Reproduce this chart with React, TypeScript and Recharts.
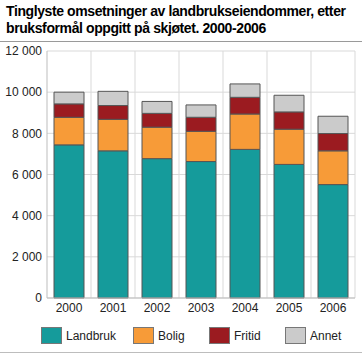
import React from 'react';
import { BarChart, Bar, XAxis, YAxis, CartesianGrid } from 'recharts';

const years = ['2000', '2001', '2002', '2003', '2004', '2005', '2006'];
const landbruk = [7440, 7150, 6770, 6630, 7220, 6490, 5510];
const bolig = [1340, 1530, 1530, 1470, 1720, 1710, 1640];
const fritid = [650, 670, 670, 680, 810, 840, 840];
const annet = [570, 690, 580, 600, 650, 810, 840];
const yTicks = [0, 2000, 4000, 6000, 8000, 10000, 12000];

const series = [
  { key: 'landbruk', name: 'Landbruk', color: '#159b9b', values: landbruk },
  { key: 'bolig', name: 'Bolig', color: '#f79b38', values: bolig },
  { key: 'fritid', name: 'Fritid', color: '#9b1b20', values: fritid },
  { key: 'annet', name: 'Annet', color: '#cbcbcb', values: annet },
];

const data = years.map((y, i) => {
  const row: any = { year: y };
  series.forEach((s) => (row[s.key] = s.values[i]));
  return row;
});

const fmt = (v: number) => String(v).replace(/\B(?=(\d{3})+(?!\d))/g, ' ');

const legendPos = [41, 133, 209, 285];
const FONT = '"Liberation Sans", Arial, sans-serif';

export default function App() {
  return (
    <div style={{ position: 'absolute', left: 0, top: 0, width: 364, height: 354, fontFamily: FONT, background: '#fff' }}>
      <div style={{ position: 'absolute', left: 6, top: 3, fontWeight: 'bold', fontSize: 14, letterSpacing: -0.4, lineHeight: '17px', color: '#000', whiteSpace: 'nowrap' }}>
        Tinglyste omsetninger av landbrukseiendommer, etter<br />bruksformål oppgitt på skjøtet. 2000-2006
      </div>
      <div style={{ position: 'absolute', left: 0, top: 41, width: 362, height: 1, background: '#9a9a9a' }} />
      <div style={{ position: 'absolute', left: 0, top: 0 }}>
        <BarChart width={364} height={354} data={data} margin={{ top: 51, right: 9, left: 0, bottom: 36 }} barCategoryGap={7} style={{ fontFamily: FONT }}>
          <CartesianGrid
            stroke="#d9d9d9"
            verticalCoordinatesGenerator={({ offset }: any) =>
              years.map((_, i) => offset.left + ((i + 1) * offset.width) / years.length)
            }
          />
          <XAxis dataKey="year" height={20} tickSize={4} tickMargin={1} tickLine={false} axisLine={{ stroke: '#bdbdbd' }} tick={{ fill: '#222', fontSize: 12, fontFamily: FONT }} />
          <YAxis width={47} domain={[0, 12000]} ticks={yTicks} tickFormatter={fmt} tickSize={5} tickMargin={0} tickLine={false} axisLine={{ stroke: '#bdbdbd' }} tick={{ fill: '#222', fontSize: 12, fontFamily: FONT }} interval={0} />
          {series.map((s) => (
            <Bar key={s.key} dataKey={s.key} name={s.name} stackId="a" fill={s.color} stroke="#555" strokeWidth={1} isAnimationActive={false} />
          ))}
        </BarChart>
      </div>
      {series.map((s, i) => (
        <div key={s.key} style={{ position: 'absolute', left: legendPos[i], top: 327, display: 'flex', alignItems: 'center', fontSize: 12, color: '#222' }}>
          <div style={{ width: 21, height: 17, background: s.color, border: '1px solid #777', boxSizing: 'border-box', marginRight: 4 }} />
          <span>{s.name}</span>
        </div>
      ))}
      <div style={{ position: 'absolute', left: 0, top: 352, width: 362, height: 1, background: '#bdbdbd' }} />
    </div>
  );
}
